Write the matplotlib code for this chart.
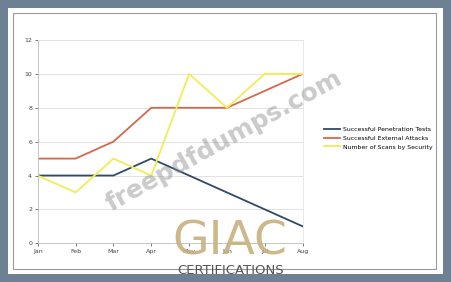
import matplotlib.pyplot as plt
from matplotlib.patches import Rectangle

# data
months = ['Jan', 'Feb', 'Mar', 'Apr', 'May', 'Jun', 'Jul', 'Aug']
pen_tests = [4, 4, 4, 5, 4, 3, 2, 1]
ext_attacks = [5, 5, 6, 8, 8, 8, 9, 10]
scans = [4, 3, 5, 4, 10, 8, 10, 10]
y_ticks = [0, 2, 4, 6, 8, 10, 12]

W, H = 451, 282
fig = plt.figure(figsize=(W / 100, H / 100), dpi=100)
fig.patch.set_facecolor('#6e8194')

# white card with thin grey frame (kept under the axes)
fig.patches.append(Rectangle((8 / W, 1 - 274 / H), 435 / W, 266 / H,
                             transform=fig.transFigure, facecolor='white',
                             edgecolor='none', zorder=-2))
fig.patches.append(Rectangle((13 / W, 1 - 269 / H), 423 / W, 256 / H,
                             transform=fig.transFigure, facecolor='none',
                             edgecolor='#9a9a9a', lw=0.8, zorder=-1))

ax = fig.add_axes([37.7 / W, 1 - 243.3 / H, 265 / W, 203.3 / H])
ax.set_facecolor('white')
x = range(len(months))
ax.plot(x, pen_tests, color='#2e4a68', lw=1.3, label='Successful Penetration Tests')
ax.plot(x, ext_attacks, color='#d2694c', lw=1.3, label='Successful External Attacks')
ax.plot(x, scans, color='#f2ec55', lw=1.3, label='Number of Scans by Security')

ax.set_xlim(0, len(months) - 1)
ax.set_ylim(0, 12)
ax.set_xticks(list(x))
ax.set_xticklabels(months)
ax.set_yticks(y_ticks)
ax.tick_params(labelsize=4.5, colors='#444444', length=2, width=0.5, pad=2)
ax.grid(axis='y', color='#dddddd', lw=0.6)
ax.set_axisbelow(True)
for side in ['left', 'bottom']:
    ax.spines[side].set_color('#bbbbbb')
    ax.spines[side].set_linewidth(0.6)
for side in ['top', 'right']:
    ax.spines[side].set_color('#e4e4e4')
    ax.spines[side].set_linewidth(0.6)

fig.legend(loc='upper left', bbox_to_anchor=(322 / W, 1 - 124 / H),
           frameon=False, fontsize=4.4, handlelength=2.6, handletextpad=0.5,
           labelspacing=0.6, borderaxespad=0)

# watermarks
fig.text(224 / W, 1 - 141 / H, 'freepdfdumps.com', fontsize=18, fontweight='bold',
         color='#8a8a8a', alpha=0.45, rotation=29, ha='center', va='center')
fig.text(230 / W, 1 - 242 / H, 'GIAC', fontsize=34, color='#c8b17f', alpha=0.9,
         ha='center', va='center')
fig.text(231 / W, 1 - 271 / H, 'CERTIFICATIONS', fontsize=9.5, color='#555555',
         ha='center', va='center')

fig.savefig('out.png', dpi=100, facecolor=fig.get_facecolor())
